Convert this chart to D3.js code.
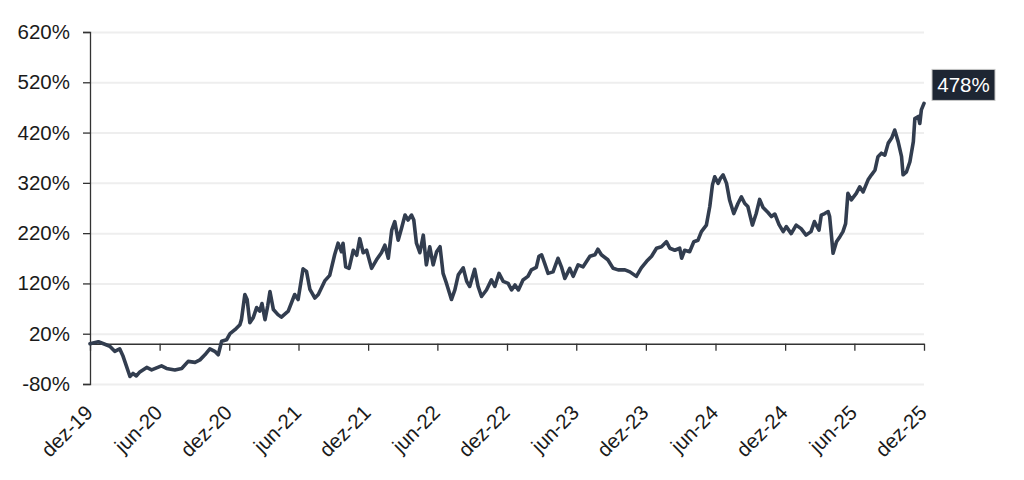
<!DOCTYPE html>
<html>
<head>
<meta charset="utf-8">
<script src="https://cdn.jsdelivr.net/npm/d3@7/dist/d3.min.js"></script>
<style>
  html, body { margin: 0; padding: 0; background: #fff; }
  svg { display: block; font-family: "Liberation Sans", Arial, sans-serif; }
</style>
</head>
<body>
<svg id="chart" width="1024" height="480"></svg>
<script>
// ---- data ----
const dates = [
  "2019-12-01","2019-12-23","2020-01-09","2020-01-22","2020-02-04","2020-02-17","2020-02-26","2020-03-06","2020-03-15","2020-03-23",
  "2020-04-01","2020-04-10","2020-04-28","2020-05-11","2020-06-06","2020-06-19","2020-07-11","2020-07-29","2020-08-15","2020-09-02",
  "2020-09-15","2020-09-28","2020-10-11","2020-10-24","2020-11-02","2020-11-11","2020-11-24","2020-12-03","2020-12-16","2020-12-29",
  "2021-01-02","2021-01-11","2021-01-17","2021-01-24","2021-02-02","2021-02-11","2021-02-19","2021-02-25","2021-03-05","2021-03-12",
  "2021-03-18","2021-03-27","2021-04-08","2021-04-17","2021-05-05","2021-05-22","2021-05-31","2021-06-13","2021-06-22","2021-07-01",
  "2021-07-14","2021-07-23","2021-08-09","2021-08-22","2021-09-04","2021-09-13","2021-09-22","2021-09-26","2021-10-03","2021-10-12",
  "2021-10-23","2021-11-01","2021-11-09","2021-11-18","2021-11-27","2021-12-10","2021-12-23","2022-01-05","2022-01-14","2022-01-23",
  "2022-02-01","2022-02-09","2022-02-18","2022-02-27","2022-03-08","2022-03-16","2022-03-25","2022-03-31","2022-04-07","2022-04-16",
  "2022-04-25","2022-05-03","2022-05-12","2022-05-21","2022-05-30","2022-06-08","2022-06-16","2022-06-25","2022-07-08","2022-07-17",
  "2022-07-26","2022-08-08","2022-08-17","2022-08-25","2022-09-07","2022-09-16","2022-09-25","2022-10-08","2022-10-21","2022-10-30",
  "2022-11-10","2022-11-21","2022-12-04","2022-12-13","2022-12-22","2022-12-31","2023-01-12","2023-01-25","2023-02-03","2023-02-16",
  "2023-02-23","2023-03-02","2023-03-10","2023-03-19","2023-04-01","2023-04-14","2023-04-23","2023-05-02","2023-05-15","2023-05-24",
  "2023-06-06","2023-06-19","2023-07-07","2023-07-20","2023-07-28","2023-08-06","2023-08-23","2023-09-06","2023-09-19","2023-10-07",
  "2023-10-20","2023-11-06","2023-11-19","2023-12-03","2023-12-16","2023-12-29","2024-01-11","2024-01-24","2024-02-02","2024-02-15",
  "2024-02-28","2024-03-04","2024-03-12","2024-03-25","2024-04-05","2024-04-16","2024-04-25","2024-05-08","2024-05-17","2024-05-24",
  "2024-05-30","2024-06-08","2024-06-14","2024-06-21","2024-06-30","2024-07-08","2024-07-19","2024-07-30","2024-08-08","2024-08-17",
  "2024-08-25","2024-09-06","2024-09-16","2024-09-25","2024-10-04","2024-10-17","2024-10-26","2024-11-04","2024-11-15","2024-11-26",
  "2024-12-04","2024-12-17","2024-12-30","2025-01-12","2025-01-25","2025-02-07","2025-02-16","2025-02-28","2025-03-06","2025-03-15",
  "2025-03-24","2025-03-28","2025-04-02","2025-04-06","2025-04-15","2025-04-24","2025-05-02","2025-05-09","2025-05-15","2025-05-24",
  "2025-06-06","2025-06-15","2025-06-24","2025-07-07","2025-07-16","2025-07-25","2025-08-02","2025-08-11","2025-08-20","2025-08-29",
  "2025-09-07","2025-09-15","2025-09-24","2025-10-03","2025-10-07","2025-10-16","2025-10-25","2025-11-03","2025-11-07","2025-11-16",
  "2025-11-20","2025-11-24","2025-12-01"
];
const values = [
  0, 4, -1, -5, -15, -10, -25, -45, -65, -59,
  -64, -56, -47, -52, -44, -49, -52, -49, -35, -37,
  -32, -22, -10, -15, -22, 5, 8, 20, 28, 38,
  48, 98, 88, 42, 52, 72, 65, 80, 48, 75,
  104, 68, 58, 53, 65, 98, 88, 149, 144, 108,
  91, 98, 125, 136, 177, 200, 183, 200, 153, 150,
  186, 176, 209, 181, 186, 150, 167, 181, 196, 170,
  226, 243, 206, 230, 256, 246, 256, 246, 200, 181,
  216, 157, 193, 157, 183, 193, 140, 120, 88, 107,
  137, 151, 124, 114, 148, 114, 94, 107, 127, 114,
  140, 124, 120, 107, 117, 107, 127, 134, 147, 152,
  174, 177, 160, 140, 143, 170, 153, 130, 150, 134,
  157, 153, 174, 177, 188, 177, 167, 150, 147, 147,
  143, 134, 151, 164, 174, 190, 193, 203, 190, 186,
  190, 170, 186, 183, 203, 206, 223, 236, 273, 316,
  332, 319, 329, 336, 319, 286, 259, 279, 292, 279,
  273, 236, 259, 287, 271, 261, 253, 258, 237, 223,
  233, 219, 236, 229, 216, 223, 243, 226, 256, 259,
  263, 253, 213, 180, 203, 213, 223, 239, 299, 286,
  299, 312, 302, 326, 336, 345, 372, 379, 375, 399,
  409, 425, 402, 372, 336, 342, 362, 402, 448, 452,
  438, 465, 478
];
const yTicks = [-80, 20, 120, 220, 320, 420, 520, 620];
const xTickDates = ["2019-12-01","2020-06-01","2020-12-01","2021-06-01","2021-12-01","2022-06-01","2022-12-01",
                    "2023-06-01","2023-12-01","2024-06-01","2024-12-01","2025-06-01","2025-12-01"];
const xTickLabels = ["dez-19","jun-20","dez-20","jun-21","dez-21","jun-22","dez-22",
                     "jun-23","dez-23","jun-24","dez-24","jun-25","dez-25"];
const lastLabel = "478%";

(function () {
// ---- layout ----
const parse = d3.timeParse("%Y-%m-%d");
const data = dates.map((d, i) => ({ date: parse(d), value: values[i] }));
const mLeft = 90, mRight = 924, mTop = 32, mBottom = 384;
const fontSize = 20.5;

const svg = d3.select("#chart");
const x = d3.scaleTime().domain([parse(xTickDates[0]), parse(xTickDates[xTickDates.length - 1])]).range([mLeft, mRight]);
const y = d3.scaleLinear().domain([-80, 620]).range([mBottom, mTop]);

// gridlines
svg.append("g")
  .selectAll("line")
  .data(yTicks)
  .join("line")
  .attr("x1", mLeft).attr("x2", mRight)
  .attr("y1", d => y(d) + 0.5).attr("y2", d => y(d) + 0.5)
  .attr("stroke", "#eeeeee")
  .attr("stroke-width", 2);

// y axis
const yAxis = svg.append("g")
  .attr("transform", `translate(${mLeft},0)`)
  .call(d3.axisLeft(y).tickValues(yTicks).tickFormat(d => d + "%").tickSize(7).tickPadding(13));
yAxis.select(".domain").attr("stroke", "#333").attr("stroke-width", 1.3);
yAxis.selectAll(".tick line").attr("stroke", "#333").attr("stroke-width", 1.3);
yAxis.selectAll(".tick text")
  .attr("font-size", fontSize).attr("fill", "#1a1a1a")
  .attr("font-family", "'Liberation Sans', Arial, sans-serif");

// x axis at 0%
const xTicks = xTickDates.map(parse);
const xAxis = svg.append("g")
  .attr("transform", `translate(0,${y(0)})`)
  .call(d3.axisBottom(x).tickValues(xTicks).tickFormat("").tickSize(7).tickSizeOuter(0));
xAxis.select(".domain").attr("stroke", "#333").attr("stroke-width", 1.3);
xAxis.selectAll(".tick line").attr("stroke", "#333").attr("stroke-width", 1.3);

// x labels, rotated below the plot
svg.append("g")
  .selectAll("text")
  .data(xTicks)
  .join("text")
  .attr("transform", d => `translate(${x(d) + 4},${mBottom + 30}) rotate(-45)`)
  .attr("text-anchor", "end")
  .attr("font-size", fontSize)
  .attr("fill", "#1a1a1a")
  .text((d, i) => xTickLabels[i]);

// line
const line = d3.line().x(d => x(d.date)).y(d => y(d.value)).curve(d3.curveLinear);
svg.append("path")
  .datum(data)
  .attr("d", line)
  .attr("fill", "none")
  .attr("stroke", "#323d4f")
  .attr("stroke-width", 3.6)
  .attr("stroke-linejoin", "round")
  .attr("stroke-linecap", "round");

// end label
const last = data[data.length - 1];
const lx = x(last.date) + 8, ly = y(last.value) - 34;
const lg = svg.append("g");
lg.append("rect")
  .attr("x", lx).attr("y", ly)
  .attr("width", 63).attr("height", 31)
  .attr("fill", "#1e2633")
  .attr("stroke", "#c8c8c8").attr("stroke-width", 1);
lg.append("text")
  .attr("x", lx + 31.5).attr("y", ly + 23)
  .attr("text-anchor", "middle")
  .attr("font-size", fontSize)
  .attr("fill", "#ffffff")
  .text(lastLabel);
})();
</script>
</body>
</html>
